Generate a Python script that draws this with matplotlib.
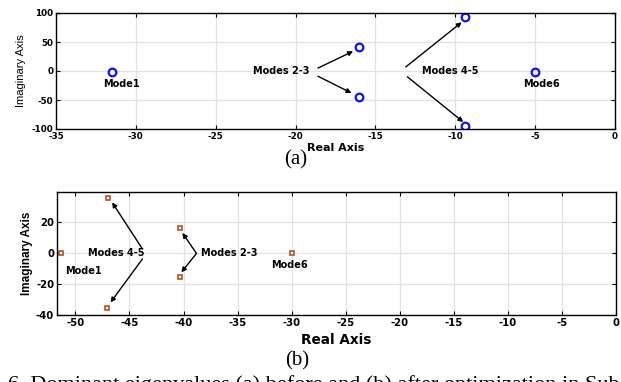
import matplotlib
matplotlib.use("Agg")
import matplotlib.pyplot as plt

plt.rcParams["axes.unicode_minus"] = False

# eigenvalues before optimization (a)
re_a = [-31.5, -16.0, -16.0, -9.4, -9.4, -5.0]
im_a = [-2, 41, -44, 93, -94, -1]
# eigenvalues after optimization (b)
re_b = [-51.3, -47.0, -47.1, -40.3, -40.3, -30.0]
im_b = [0, 35.5, -35.5, 15.8, -15.8, 0]

xticks_a = [-35, -30, -25, -20, -15, -10, -5, 0]
yticks_a = [-100, -50, 0, 50, 100]
xticks_b = [-50, -45, -40, -35, -30, -25, -20, -15, -10, -5, 0]
yticks_b = [-40, -20, 0, 20]

W, H = 621, 382
fig = plt.figure(figsize=(W / 100, H / 100), dpi=100)
sans = "DejaVu Sans"
arial = "Liberation Sans"
serif = "Liberation Serif"


def px_axes(l, t, r, b):
    return fig.add_axes([l / W, 1 - b / H, (r - l) / W, (b - t) / H])


def style(ax, fs):
    ax.grid(True, color="#e2e2e2", lw=0.9)
    ax.set_axisbelow(True)
    ax.tick_params(direction="in", top=True, right=True, length=3, width=0.8,
                   labelsize=fs, pad=2)
    for lab in ax.get_xticklabels() + ax.get_yticklabels():
        lab.set_fontweight("bold")
        lab.set_family(sans)
    for s in ax.spines.values():
        s.set_linewidth(1.0)


arw = dict(arrowstyle="-|>", color="black", lw=1.0, mutation_scale=7,
           shrinkA=0, shrinkB=0)

# ---- (a)
ax1 = px_axes(56, 13, 615, 129)
ax1.plot(re_a, im_a, "o", ls="none", mfc="none", mec="#1010ff", ms=5.5, mew=1.6)
ax1.set_xlim(-35, 0)
ax1.set_ylim(-100, 100)
ax1.set_xticks(xticks_a)
ax1.set_yticks(yticks_a)
style(ax1, 6.3)
ax1.set_xlabel("Real Axis", fontsize=8, fontweight="bold", family=sans, labelpad=1.5)
ax1.set_ylabel("Imaginary Axis", fontsize=8, family=arial, labelpad=4)
tk = dict(fontsize=7, fontweight="bold", family=sans, ha="center", va="center")
ax1.text(-30.9, -22, "Mode1", **tk)
ax1.text(-4.6, -22, "Mode6", **tk)
ax1.text(-20.9, 0, "Modes 2-3", **tk)
ax1.text(-10.3, 0, "Modes 4-5", **tk)
ax1.annotate("", xy=(-16.4, 34), xytext=(-18.6, 5), arrowprops=arw)
ax1.annotate("", xy=(-16.5, -38), xytext=(-18.6, -9), arrowprops=arw)
ax1.annotate("", xy=(-9.6, 84), xytext=(-13.1, 7), arrowprops=arw)
ax1.annotate("", xy=(-9.5, -88), xytext=(-13.0, -10), arrowprops=arw)

# ---- (b)
ax2 = px_axes(57, 192, 616, 315)
ax2.plot(re_b, im_b, "s", ls="none", mfc="white", mec="#b8501e", ms=3.5, mew=1.2)
ax2.set_xlim(-51.7, 0)
ax2.set_ylim(-40, 39.3)
ax2.set_xticks(xticks_b)
ax2.set_yticks(yticks_b)
style(ax2, 7.3)
ax2.set_xlabel("Real Axis", fontsize=9.8, fontweight="bold", family=sans, labelpad=4)
ax2.set_ylabel("Imaginary Axis", fontsize=8.5, fontweight="bold", family=arial,
               labelpad=2)
tk2 = dict(fontsize=7, fontweight="bold", family=sans, ha="center", va="center")
ax2.text(-49.3, -11.4, "Mode1", **tk2)
ax2.text(-30.2, -7.7, "Mode6", **tk2)
ax2.text(-46.2, 0, "Modes 4-5", **tk2)
ax2.text(-35.8, 0, "Modes 2-3", **tk2)
ax2.annotate("", xy=(-46.6, 32.6), xytext=(-43.8, 2.6), arrowprops=arw)
ax2.annotate("", xy=(-46.75, -31.9), xytext=(-43.8, -3.9), arrowprops=arw)
ax2.annotate("", xy=(-40.1, 12.9), xytext=(-38.8, -0.3), arrowprops=arw)
ax2.annotate("", xy=(-40.2, -12.5), xytext=(-38.8, -0.3), arrowprops=arw)

# captions
fig.text(296 / W, 1 - 160 / H, "(a)", fontsize=15, family=serif, ha="center", va="center")
fig.text(297 / W, 1 - 361 / H, "(b)", fontsize=15, family=serif, ha="center", va="center")
fig.text(8 / W, 1 - 375 / H,
         "6. Dominant eigenvalues (a) before and (b) after optimization in Sub",
         fontsize=16, family=serif, ha="left", va="top")

fig.savefig("out.png", dpi=100)
